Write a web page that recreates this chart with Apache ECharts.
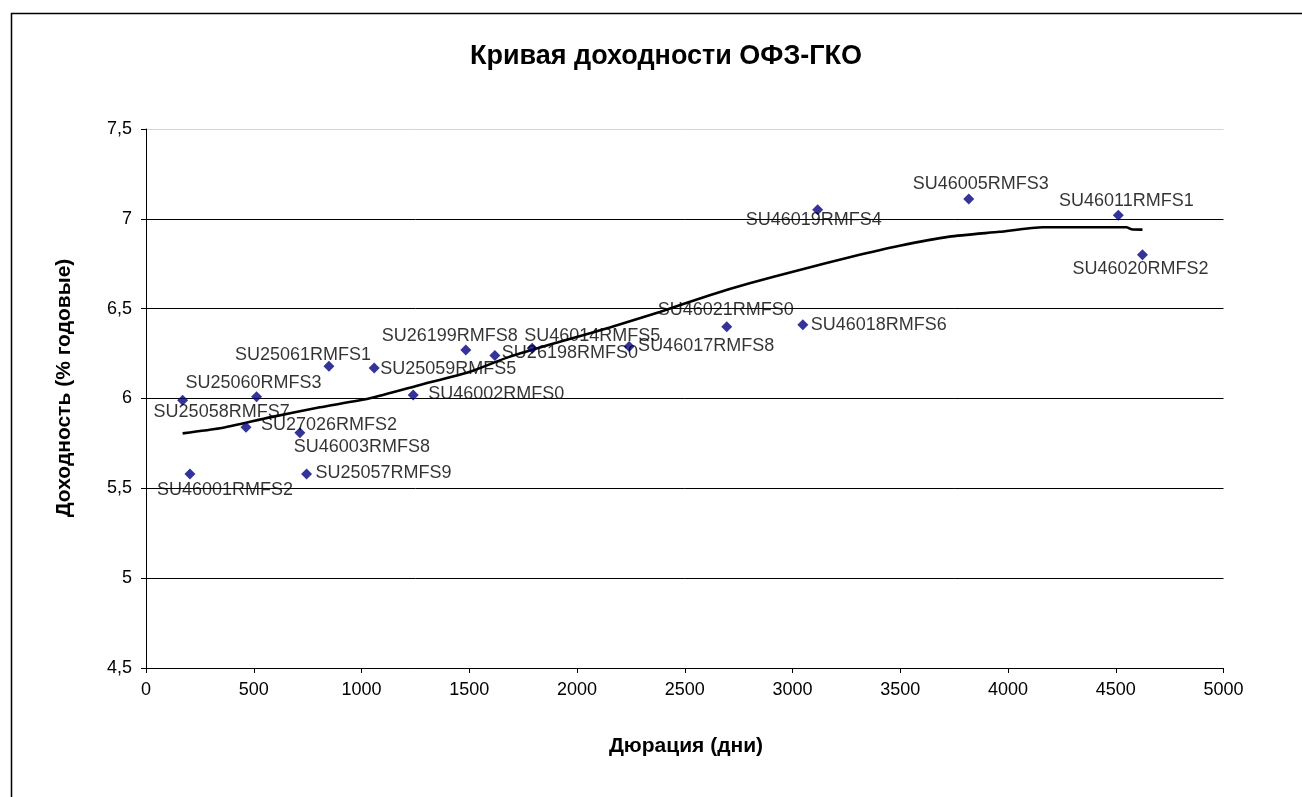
<!DOCTYPE html>
<html>
<head>
<meta charset="utf-8">
<script src="https://cdn.jsdelivr.net/npm/echarts@6/dist/echarts.min.js"></script>
<style>
html,body{margin:0;padding:0;background:#fff;}
#chart{width:1302px;height:797px;}
</style>
</head>
<body>
<div id="chart"></div>
<script>
// ---- data ----
var bondNames = ['SU25058RMFS7','SU46001RMFS2','SU27026RMFS2','SU25060RMFS3','SU46003RMFS8','SU25057RMFS9','SU25061RMFS1','SU25059RMFS5','SU46002RMFS0','SU26199RMFS8','SU26198RMFS0','SU46014RMFS5','SU46017RMFS8','SU46021RMFS0','SU46018RMFS6','SU46019RMFS4','SU46005RMFS3','SU46011RMFS1','SU46020RMFS2'];
var durations = [170, 204, 464, 513, 714, 745, 849, 1059, 1240, 1484, 1619, 1792, 2242, 2695, 3048, 3117, 3818, 4512, 4624];
var yields    = [5.99, 5.58, 5.84, 6.01, 5.81, 5.58, 6.18, 6.17, 6.02, 6.27, 6.24, 6.28, 6.29, 6.40, 6.41, 7.05, 7.11, 7.02, 6.80];

var curveX = [170, 343, 575, 807, 1039, 1271, 1503, 1688, 1920, 2152, 2384, 2616, 2801, 3033, 3265, 3497, 3729, 3961, 4161, 4550, 4573, 4624];
var curveY = [5.806, 5.834, 5.895, 5.951, 6.001, 6.075, 6.149, 6.233, 6.316, 6.395, 6.482, 6.575, 6.641, 6.715, 6.786, 6.850, 6.901, 6.928, 6.953, 6.953, 6.942, 6.940];

var yTicks = [4.5, 5, 5.5, 6, 6.5, 7, 7.5];
var xTicks = [0, 500, 1000, 1500, 2000, 2500, 3000, 3500, 4000, 4500, 5000];

// ---- label placement (style) : text-center offset from marker ----
var labelOffsets = [[39,12],[35,16],[83,-2],[-3,-14],[62,14],[77,-1],[-26,-11],[74,1],[83,-1],[-16,-14],[75,-2],[60,-12],[77,0],[-1,-17],[76,0],[-4,10],[12,-15],[8,-14],[-2,14]];

var FONT = 'Liberation Sans, Arial, sans-serif';

var scatterData = durations.map(function(d, i){
  return {
    value: [d, yields[i]],
    name: bondNames[i],
    label: { offset: labelOffsets[i] }
  };
});
var curveData = curveX.map(function(x, i){ return [x, curveY[i]]; });

var chart = echarts.init(document.getElementById('chart'), null, {renderer:'canvas'});
chart.setOption({
  backgroundColor: '#fff',
  animation: false,
  title: {
    text: 'Кривая доходности ОФЗ-ГКО',
    left: 661, top: 38, textAlign: 'center',
    textStyle: { fontFamily: FONT, fontSize: 27, fontWeight: 'bold', color: '#000' }
  },
  grid: { left: 146, right: 78.5, top: 129, bottom: 129, containLabel: false },
  xAxis: {
    type: 'value', min: 0, max: 5000, interval: 500,
    axisLine: { show: true, onZero: false, lineStyle: { color: '#000', width: 1 } },
    axisTick: { show: true, inside: false, length: 5, lineStyle: { color: '#000' } },
    axisLabel: { color: '#000', fontFamily: FONT, fontSize: 18, margin: 13,
      formatter: function(v){ return xTicks.indexOf(v) >= 0 ? String(v) : ''; } },
    splitLine: { show: false }
  },
  yAxis: {
    type: 'value', min: 4.5, max: 7.5, interval: 0.5,
    axisLine: { show: true, onZero: false, lineStyle: { color: '#000', width: 1 } },
    axisTick: { show: true, inside: false, length: 5, lineStyle: { color: '#000' } },
    axisLabel: { color: '#000', fontFamily: FONT, fontSize: 18, margin: 14,
      formatter: function(v){ return String(v).replace('.', ','); } },
    splitLine: { show: true, lineStyle: { color: ['#000','#000','#000','#000','#000','#000','#d4d4d4'], width: 1 } }
  },
  series: [
    {
      type: 'line',
      data: curveData,
      showSymbol: false,
      smooth: 0.2,
      lineStyle: { color: '#000', width: 2.6 },
      z: 2,
      silent: true
    },
    {
      type: 'scatter',
      data: scatterData,
      symbol: 'diamond',
      symbolSize: 11,
      itemStyle: { color: '#000080' },
      z: 3,
      label: {
        show: true,
        position: 'inside',
        align: 'center',
        verticalAlign: 'middle',
        color: '#000',
        fontFamily: FONT,
        fontSize: 18,
        formatter: function(p){ return p.name; }
      }
    }
  ],
  graphic: [
    { type: 'rect', left: 9, top: 11, z: 100, shape: { width: 1400, height: 900 },
      style: { fill: 'none', stroke: '#000', lineWidth: 1.5 }, silent: true },
    { type: 'text', x: 686, y: 746, z: 100,
      style: { text: 'Дюрация (дни)', fontFamily: FONT, fontSize: 21, fontWeight: 'bold', fill: '#000', align: 'center', verticalAlign: 'middle' } },
    { type: 'text', x: 64, y: 388, rotation: Math.PI / 2, z: 100,
      style: { text: 'Доходность (% годовые)', fontFamily: FONT, fontSize: 21, fontWeight: 'bold', fill: '#000', align: 'center', verticalAlign: 'middle' } }
  ]
});
</script>
</body>
</html>
